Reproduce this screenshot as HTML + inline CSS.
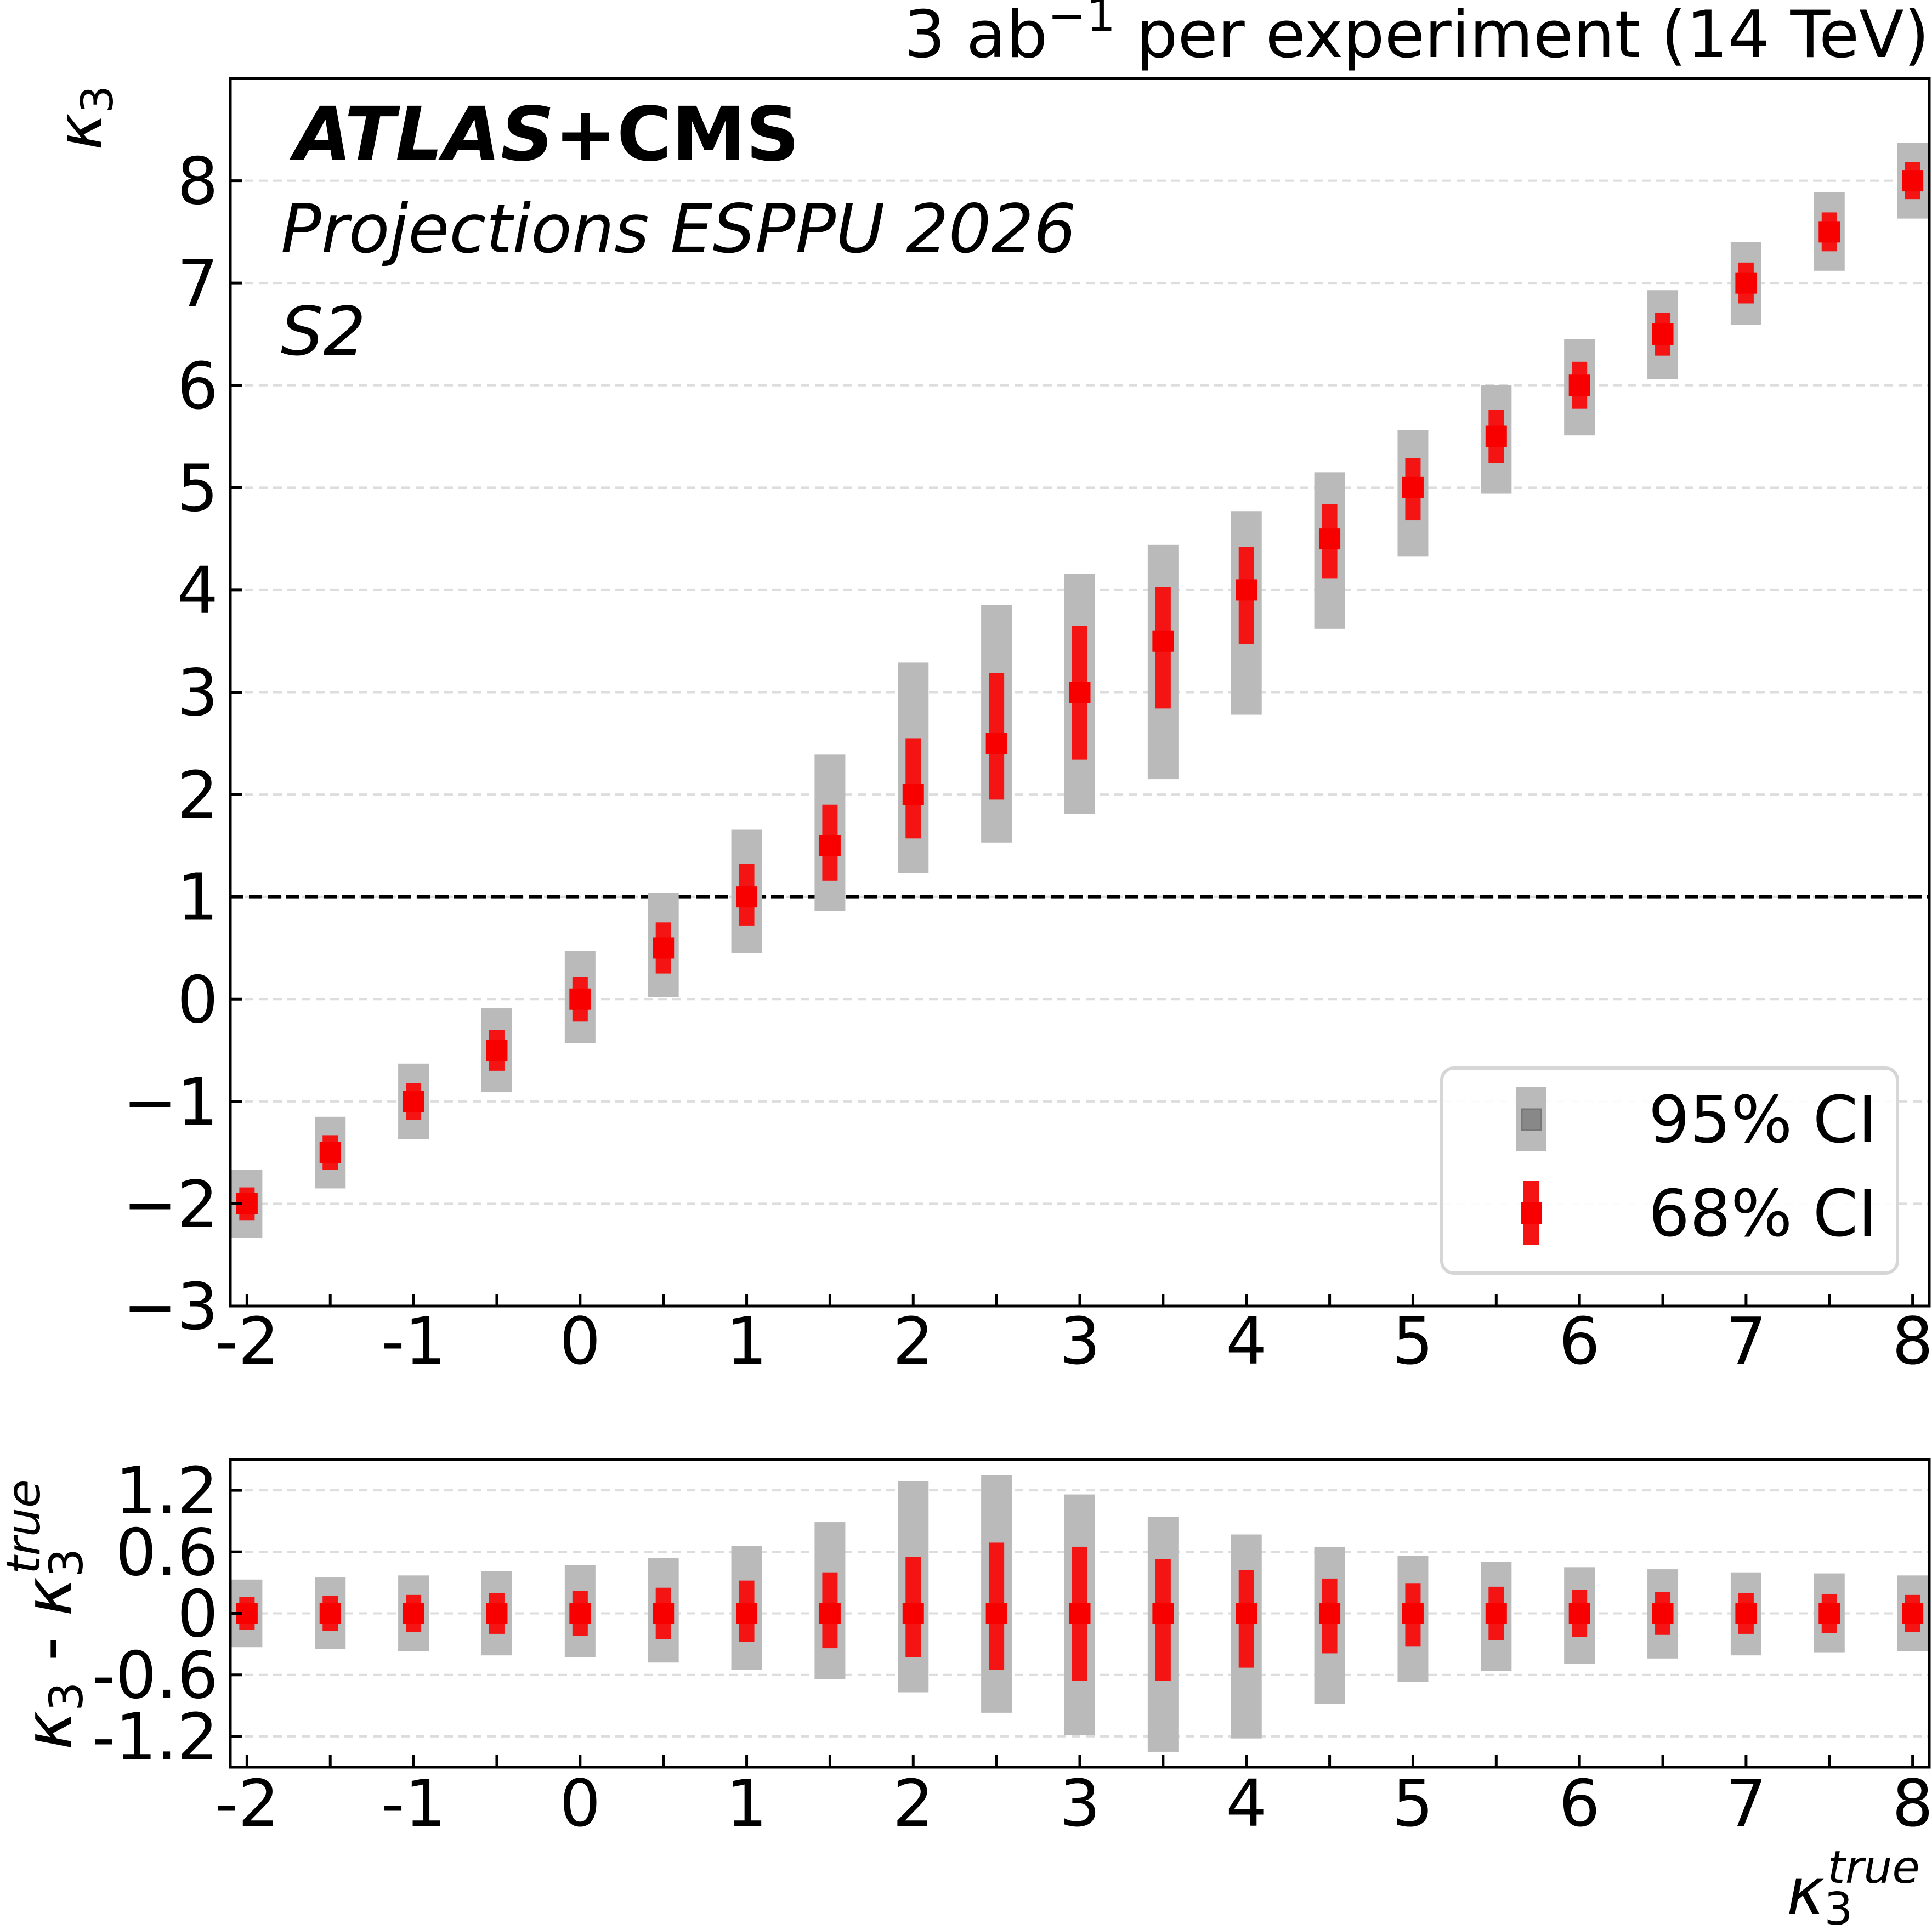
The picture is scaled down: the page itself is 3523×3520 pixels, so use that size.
<!DOCTYPE html>
<html><head><meta charset="utf-8"><style>
html,body{margin:0;padding:0;background:#fff;}
svg{display:block;font-family:"DejaVu Sans","Liberation Sans",sans-serif;}
</style></head><body>
<svg id="chart" width="3523" height="3520" viewBox="0 0 3523 3520" xmlns="http://www.w3.org/2000/svg">
<g id="grid"></g>
<g id="marks"></g>
<g id="axes"></g>
<text x="3518" y="104" font-size="119" text-anchor="end">3 ab<tspan dy="-47" font-size="84">−1</tspan><tspan dy="47"> per experiment (14 TeV)</tspan></text>
<text x="536" y="292" font-size="136" font-weight="bold" font-style="italic">ATLAS<tspan font-style="normal">+CMS</tspan></text>
<text x="512" y="460" font-size="122" font-style="italic">Projections ESPPU 2026</text>
<text x="512" y="647" font-size="122" font-style="italic">S2</text>
<text transform="translate(185,215) rotate(-90)" font-size="114" text-anchor="middle" font-style="italic">κ<tspan dy="20" font-size="80" font-style="normal">3</tspan></text>
<text transform="translate(130,2945) rotate(-90)" font-size="120" text-anchor="middle" font-style="italic">κ<tspan dy="20" font-size="84" font-style="normal">3</tspan><tspan dy="-20" font-style="normal"> - </tspan>κ<tspan dy="20" font-size="84" font-style="normal">3</tspan><tspan dx="-47" dy="-78" font-size="84">true</tspan></text>
<text x="3258" y="3490" font-size="116" font-style="italic">κ<tspan dy="20" font-size="82" font-style="normal">3</tspan><tspan dx="-46" dy="-76" font-size="82">true</tspan></text>
<g>
<rect x="2629" y="1948" width="831" height="374" rx="22" fill="#fff" fill-opacity="0.9" stroke="#d6d6d6" stroke-width="6"/>
<rect x="2765" y="1983" width="55" height="117" fill="#bababa"/>
<rect x="2775" y="2023" width="35" height="38" fill="#888" stroke="#777" stroke-width="3"/>
<rect x="2778" y="2154" width="28" height="117" fill="#f51414"/>
<rect x="2773" y="2193" width="39" height="39" fill="#f80000"/>
<text x="3006" y="2083" font-size="118">95% CI</text>
<text x="3006" y="2254" font-size="118">68% CI</text>
</g>
</svg>
<script>
const kTrue = [-2,-1.5,-1,-0.5,0,0.5,1,1.5,2,2.5,3,3.5,4,4.5,5,5.5,6,6.5,7,7.5,8];
const ci95Up = [0.33,0.35,0.37,0.41,0.47,0.54,0.66,0.89,1.29,1.35,1.16,0.94,0.77,0.65,0.56,0.50,0.45,0.43,0.40,0.39,0.37];
const ci95Dn = [0.33,0.35,0.37,0.41,0.43,0.48,0.55,0.64,0.77,0.97,1.19,1.35,1.22,0.88,0.67,0.56,0.49,0.44,0.41,0.38,0.37];
const ci68Up = [0.16,0.17,0.18,0.20,0.22,0.25,0.32,0.40,0.55,0.69,0.65,0.53,0.42,0.34,0.29,0.26,0.23,0.21,0.20,0.19,0.18];
const ci68Dn = [0.16,0.17,0.18,0.20,0.22,0.25,0.28,0.34,0.43,0.55,0.66,0.66,0.53,0.39,0.32,0.26,0.23,0.21,0.20,0.19,0.18];
const mainYTicks = [-3,-2,-1,0,1,2,3,4,5,6,7,8];
const mainYLabels = ["−3","−2","−1","0","1","2","3","4","5","6","7","8"];
const ratioYTicks = [-1.2,-0.6,0,0.6,1.2];
const ratioYLabels = ["-1.2","-0.6","0","0.6","1.2"];
const xTickLabels = ["-2","-1","0","1","2","3","4","5","6","7","8"];
const xLabelValues = [-2,-1,0,1,2,3,4,5,6,7,8];

const NS="http://www.w3.org/2000/svg";
const L=420,R=3518;
const xs=v=>L+(v+2.1)/10.2*(R-L);
const mT=143,mB=2382, yM=v=>mB-(v+3)/12*(mB-mT);
const rT=2662,rB=3223, yR=v=>rB-(v+1.5)/3*(rB-rT);
function el(tag,attrs,parent,text){const e=document.createElementNS(NS,tag);for(const k in attrs)e.setAttribute(k,attrs[k]);if(text!==undefined)e.textContent=text;parent.appendChild(e);return e;}
const grid=document.getElementById('grid'),marks=document.getElementById('marks'),axes=document.getElementById('axes');

mainYTicks.forEach((t,i)=>{
  if(t>-3){const g=el('line',{x1:L,x2:R,y1:yM(t),y2:yM(t),stroke:'#dddddd','stroke-width':4,'stroke-dasharray':'16,10'},grid);
  
  }
  const tk=el('line',{x1:L,x2:L+22,y1:yM(t),y2:yM(t),stroke:'#000','stroke-width':5},axes);
  
  
  const lb=el('text',{x:L-22,y:yM(t)+42,'font-size':118,'text-anchor':'end'},axes,mainYLabels[i]);
  
  
});
ratioYTicks.forEach((t,i)=>{
  const g=el('line',{x1:L,x2:R,y1:yR(t),y2:yR(t),stroke:'#dddddd','stroke-width':4,'stroke-dasharray':'16,10'},grid);
  
  
  const tk=el('line',{x1:L,x2:L+22,y1:yR(t),y2:yR(t),stroke:'#000','stroke-width':5},axes);
  
  
  const lb=el('text',{x:L-22,y:yR(t)+42,'font-size':118,'text-anchor':'end'},axes,ratioYLabels[i]);
  
  
});
const ref=el('line',{x1:L,x2:R,y1:yM(1),y2:yM(1),stroke:'#000','stroke-width':6,'stroke-dasharray':'24,10'},grid);



kTrue.forEach((k,i)=>{
  const cx=xs(k);
  [[yM,k],[yR,0]].forEach(([fy,c],p)=>{
    const g=el('rect',{x:cx-28,y:fy(c+ci95Up[i]),width:56,height:fy(c-ci95Dn[i])-fy(c+ci95Up[i]),fill:'#bababa'},marks);
    
    
    const r=el('rect',{x:cx-14,y:fy(c+ci68Up[i]),width:28,height:fy(c-ci68Dn[i])-fy(c+ci68Up[i]),fill:'#f51414'},marks);
    
    
    const m=el('rect',{x:cx-19.5,y:fy(c)-19.5,width:39,height:39,fill:'#f80000'},marks);
    
    
  });
  [mB,rB].forEach((yb,p)=>{
    const t=el('line',{x1:cx,x2:cx,y1:yb,y2:yb-22,stroke:'#000','stroke-width':5},axes);
    
    
  });
});
xLabelValues.forEach((v,i)=>{
  [[mB,2487],[rB,3330]].forEach(([yb,ty],p)=>{
    const lb=el('text',{x:xs(v),y:ty,'font-size':118,'text-anchor':'middle'},axes,xTickLabels[i]);
    
    
  });
});
[[mT,mB,'main-plot-frame'],[rT,rB,'ratio-plot-frame']].forEach(([t,b,n])=>{
  const f=el('rect',{x:L,y:t,width:R-L,height:b-t,fill:'none',stroke:'#000','stroke-width':5},axes);
  
  
});
</script>
</body></html>
